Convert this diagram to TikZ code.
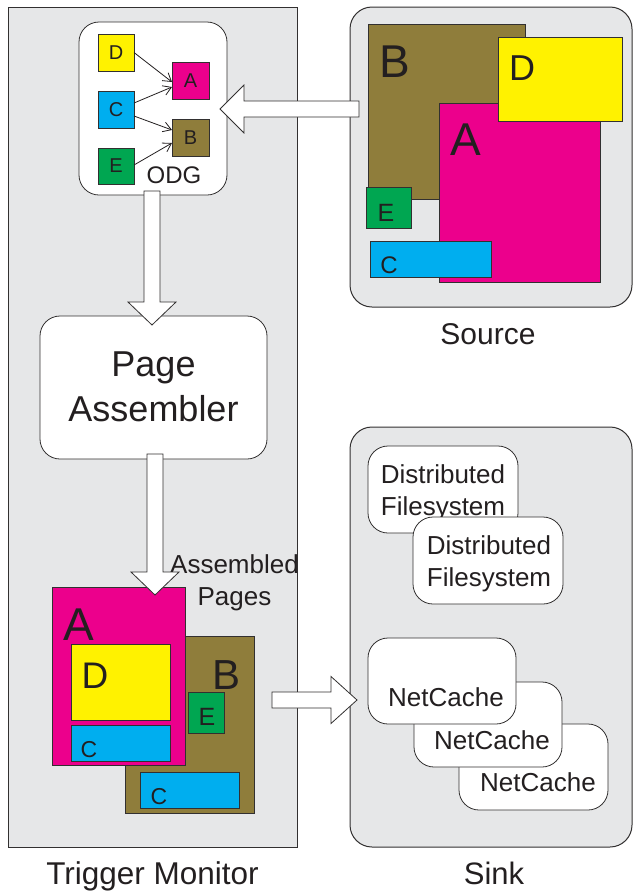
\documentclass[tikz,border=0pt]{standalone}
\usepackage{fontspec}
\setmainfont{Liberation Sans}
\usetikzlibrary{calc,arrows.meta}
\definecolor{panelgray}{RGB}{230,231,232}
\definecolor{linec}{RGB}{50,48,48}
\definecolor{textc}{RGB}{35,31,32}
\definecolor{cmag}{RGB}{236,0,140}
\definecolor{cyel}{RGB}{255,242,0}
\definecolor{ccya}{RGB}{0,174,239}
\definecolor{cgre}{RGB}{0,166,81}
\definecolor{coli}{RGB}{143,125,59}
\newcommand\fs[1]{\fontsize{#1}{#1}\selectfont}
\begin{document}
\begin{tikzpicture}[x=1pt,y=-1pt,
  panel/.style={draw=linec, fill=panelgray, line width=1pt, inner sep=0pt, outer sep=0pt},
  cbox/.style={draw=linec, line width=0.8pt, inner sep=0pt, outer sep=0pt},
  rbox/.style={draw=linec, fill=white, rounded corners=20pt, line width=0.8pt, inner sep=0pt, outer sep=0pt},
  hollow/.style={draw=linec, fill=white, line width=0.8pt, line join=miter},
  lbl/.style={text=textc, inner sep=0pt, outer sep=0pt},
  barb/.style={draw=textc, line width=0.8pt, -{Straight Barb[length=8pt,width=10pt]}},
  mlbl/.style={text=textc, inner sep=0pt, outer sep=0pt, align=center}
]
\useasboundingbox (0,0) rectangle (633,892);

% panels
\node[panel, minimum width=289pt, minimum height=840pt] (tm) at (152.5,427) {};
\node[panel, rounded corners=22pt, minimum width=282pt, minimum height=300pt] (src) at (491,157) {};
\node[panel, rounded corners=22pt, minimum width=282pt, minimum height=420pt] (snk) at (491,637) {};

\node[lbl, anchor=base, font=\fs{31.5}] (tmlbl) at (152.5,884) {Trigger Monitor};
\node[lbl, anchor=base, font=\fs{31}] (snklbl) at (494,884) {Sink};
\node[lbl, anchor=base, font=\fs{30}] (srclbl) at (488,344) {Source};

% source contents
\node[cbox, fill=coli, minimum width=157pt, minimum height=175pt] (sB) at (446.5,111.5) {};
\node[cbox, fill=cmag, minimum width=161pt, minimum height=179pt] (sA) at (519.5,192.5) {};
\node[cbox, fill=cyel, minimum width=124pt, minimum height=84pt] (sD) at (560,79) {};
\node[cbox, fill=cgre, minimum width=45pt, minimum height=41pt] (sE) at (388.5,207.5) {};
\node[cbox, fill=ccya, minimum width=121pt, minimum height=36pt] (sC) at (430.5,259) {};
\node[lbl, font=\fs{46}] (sBl) at (395,62) {B};
\node[lbl, font=\fs{46}] (sAl) at (466,140) {A};
\node[lbl, font=\fs{36}] (sDl) at (522,68) {D};
\node[lbl, font=\fs{25}] (sEl) at (386,213) {E};
\node[lbl, font=\fs{24}] (sCl) at (389,265) {C};

% ODG
\node[rbox, minimum width=148pt, minimum height=173pt] (odg) at (153,108.5) {};
\node[cbox, fill=cyel, minimum width=36pt, minimum height=37pt] (oD) at (116,52.5) {};
\node[cbox, fill=ccya, minimum width=36pt, minimum height=37pt] (oC) at (116,109.5) {};
\node[cbox, fill=cgre, minimum width=36pt, minimum height=36pt] (oE) at (116,166) {};
\node[cbox, fill=cmag, minimum width=37pt, minimum height=37pt] (oA) at (190.5,80.5) {};
\node[cbox, fill=coli, minimum width=37pt, minimum height=37pt] (oB) at (190.5,137.5) {};
\node[lbl, font=\fs{20}] at (oD) {D};
\node[lbl, font=\fs{20}] at (oC) {C};
\node[lbl, font=\fs{20}] at (oE) {E};
\node[lbl, font=\fs{20}] at (oA) {A};
\node[lbl, font=\fs{20}] at (oB) {B};
\node[lbl, font=\fs{24}] (odgl) at (174,175) {ODG};
\draw[barb] (oD.east) -- ($(oA.west)+(0,1.5)$);
\draw[barb] ($(oC.east)+(0,-6.5)$) -- ($(oA.west)+(0,6.5)$);
\draw[barb] ($(oC.east)+(0,6.5)$) -- ($(oB.west)+(0,-7.5)$);
\draw[barb] ($(oE.east)+(0,-1)$) -- ($(oB.west)+(0,5.5)$);

% page assembler
\node[rbox, minimum width=227pt, minimum height=143pt] (pa) at (153.5,387.5) {};
\node[mlbl, font=\fontsize{36}{45}\selectfont] (pal) at (153.5,386.6) {Page\\Assembler};

% assembled pages
\node[cbox, fill=coli, minimum width=129pt, minimum height=177pt] (pB) at (189.5,724.5) {};
\node[cbox, fill=cgre, minimum width=36pt, minimum height=41pt] (pE) at (206,712.5) {};
\node[cbox, fill=ccya, minimum width=99pt, minimum height=36pt] (pC2) at (189.5,790) {};
\node[cbox, fill=cmag, minimum width=133pt, minimum height=178pt] (pA) at (118.5,676) {};
\node[cbox, fill=cyel, minimum width=99pt, minimum height=76pt] (pD) at (120.5,682) {};
\node[cbox, fill=ccya, minimum width=99pt, minimum height=36pt] (pC1) at (120.5,743) {};
\node[lbl, font=\fs{46}] (pAl) at (79,625) {A};
\node[lbl, font=\fs{37}] (pDl) at (95,676) {D};
\node[lbl, font=\fs{23}] (pC1l) at (89,750) {C};
\node[lbl, font=\fs{42}] (pBl) at (227,675) {B};
\node[lbl, font=\fs{25}] (pEl) at (207,717) {E};
\node[lbl, font=\fs{23}] (pC2l) at (159,797) {C};
\node[mlbl, font=\fontsize{26}{32}\selectfont] (apl) at (234.5,583) {Assembled\\Pages};

% sink contents
\node[rbox, minimum width=150pt, minimum height=87pt] (df1) at (443,489.5) {};
\node[mlbl, font=\fontsize{26}{32}\selectfont] at ($(df1)+(0,3.5)$) {Distributed\\Filesystem};
\node[rbox, minimum width=150pt, minimum height=87pt] (df2) at (488,560.5) {};
\node[mlbl, font=\fontsize{26}{32}\selectfont] at ($(df2)+(1,3.5)$) {Distributed\\Filesystem};
\node[rbox, minimum width=149pt, minimum height=86pt] (nc3) at (533.5,767) {};
\node[lbl, font=\fs{26}] at ($(nc3)+(4.5,15)$) {NetCache};
\node[rbox, minimum width=148pt, minimum height=85pt] (nc2) at (488,724.5) {};
\node[lbl, font=\fs{26}] at ($(nc2)+(4,15.5)$) {NetCache};
\node[rbox, minimum width=148pt, minimum height=86pt] (nc1) at (442,681) {};
\node[lbl, font=\fs{26}] at ($(nc1)+(4,16)$) {NetCache};

% hollow arrows
\coordinate (a1t) at (152,191);
\coordinate (a1h) at (152,325);
\draw[hollow] ($(a1t)+(-8,0)$) -- ($(a1h)+(-8,-23)$) -- ($(a1h)+(-24,-23)$) -- (a1h)
  -- ($(a1h)+(24,-23)$) -- ($(a1h)+(8,-23)$) -- ($(a1t)+(8,0)$) -- cycle;
\coordinate (a2t) at (155,454);
\coordinate (a2h) at (155,595);
\draw[hollow] ($(a2t)+(-8,0)$) -- ($(a2h)+(-8,-23)$) -- ($(a2h)+(-24,-23)$) -- (a2h)
  -- ($(a2h)+(24,-23)$) -- ($(a2h)+(8,-23)$) -- ($(a2t)+(8,0)$) -- cycle;
\coordinate (a3t) at (359,109);
\coordinate (a3h) at (220,109);
\draw[hollow] ($(a3t)+(0,-8)$) -- ($(a3h)+(24,-8)$) -- ($(a3h)+(24,-24)$) -- (a3h)
  -- ($(a3h)+(24,24)$) -- ($(a3h)+(24,8)$) -- ($(a3t)+(0,8)$) -- cycle;
\coordinate (a4t) at (272,700);
\coordinate (a4h) at (357,700);
\draw[hollow] ($(a4t)+(0,-8)$) -- ($(a4h)+(-26,-8)$) -- ($(a4h)+(-26,-23.5)$) -- (a4h)
  -- ($(a4h)+(-26,23.5)$) -- ($(a4h)+(-26,8)$) -- ($(a4t)+(0,8)$) -- cycle;
\end{tikzpicture}
\end{document}
